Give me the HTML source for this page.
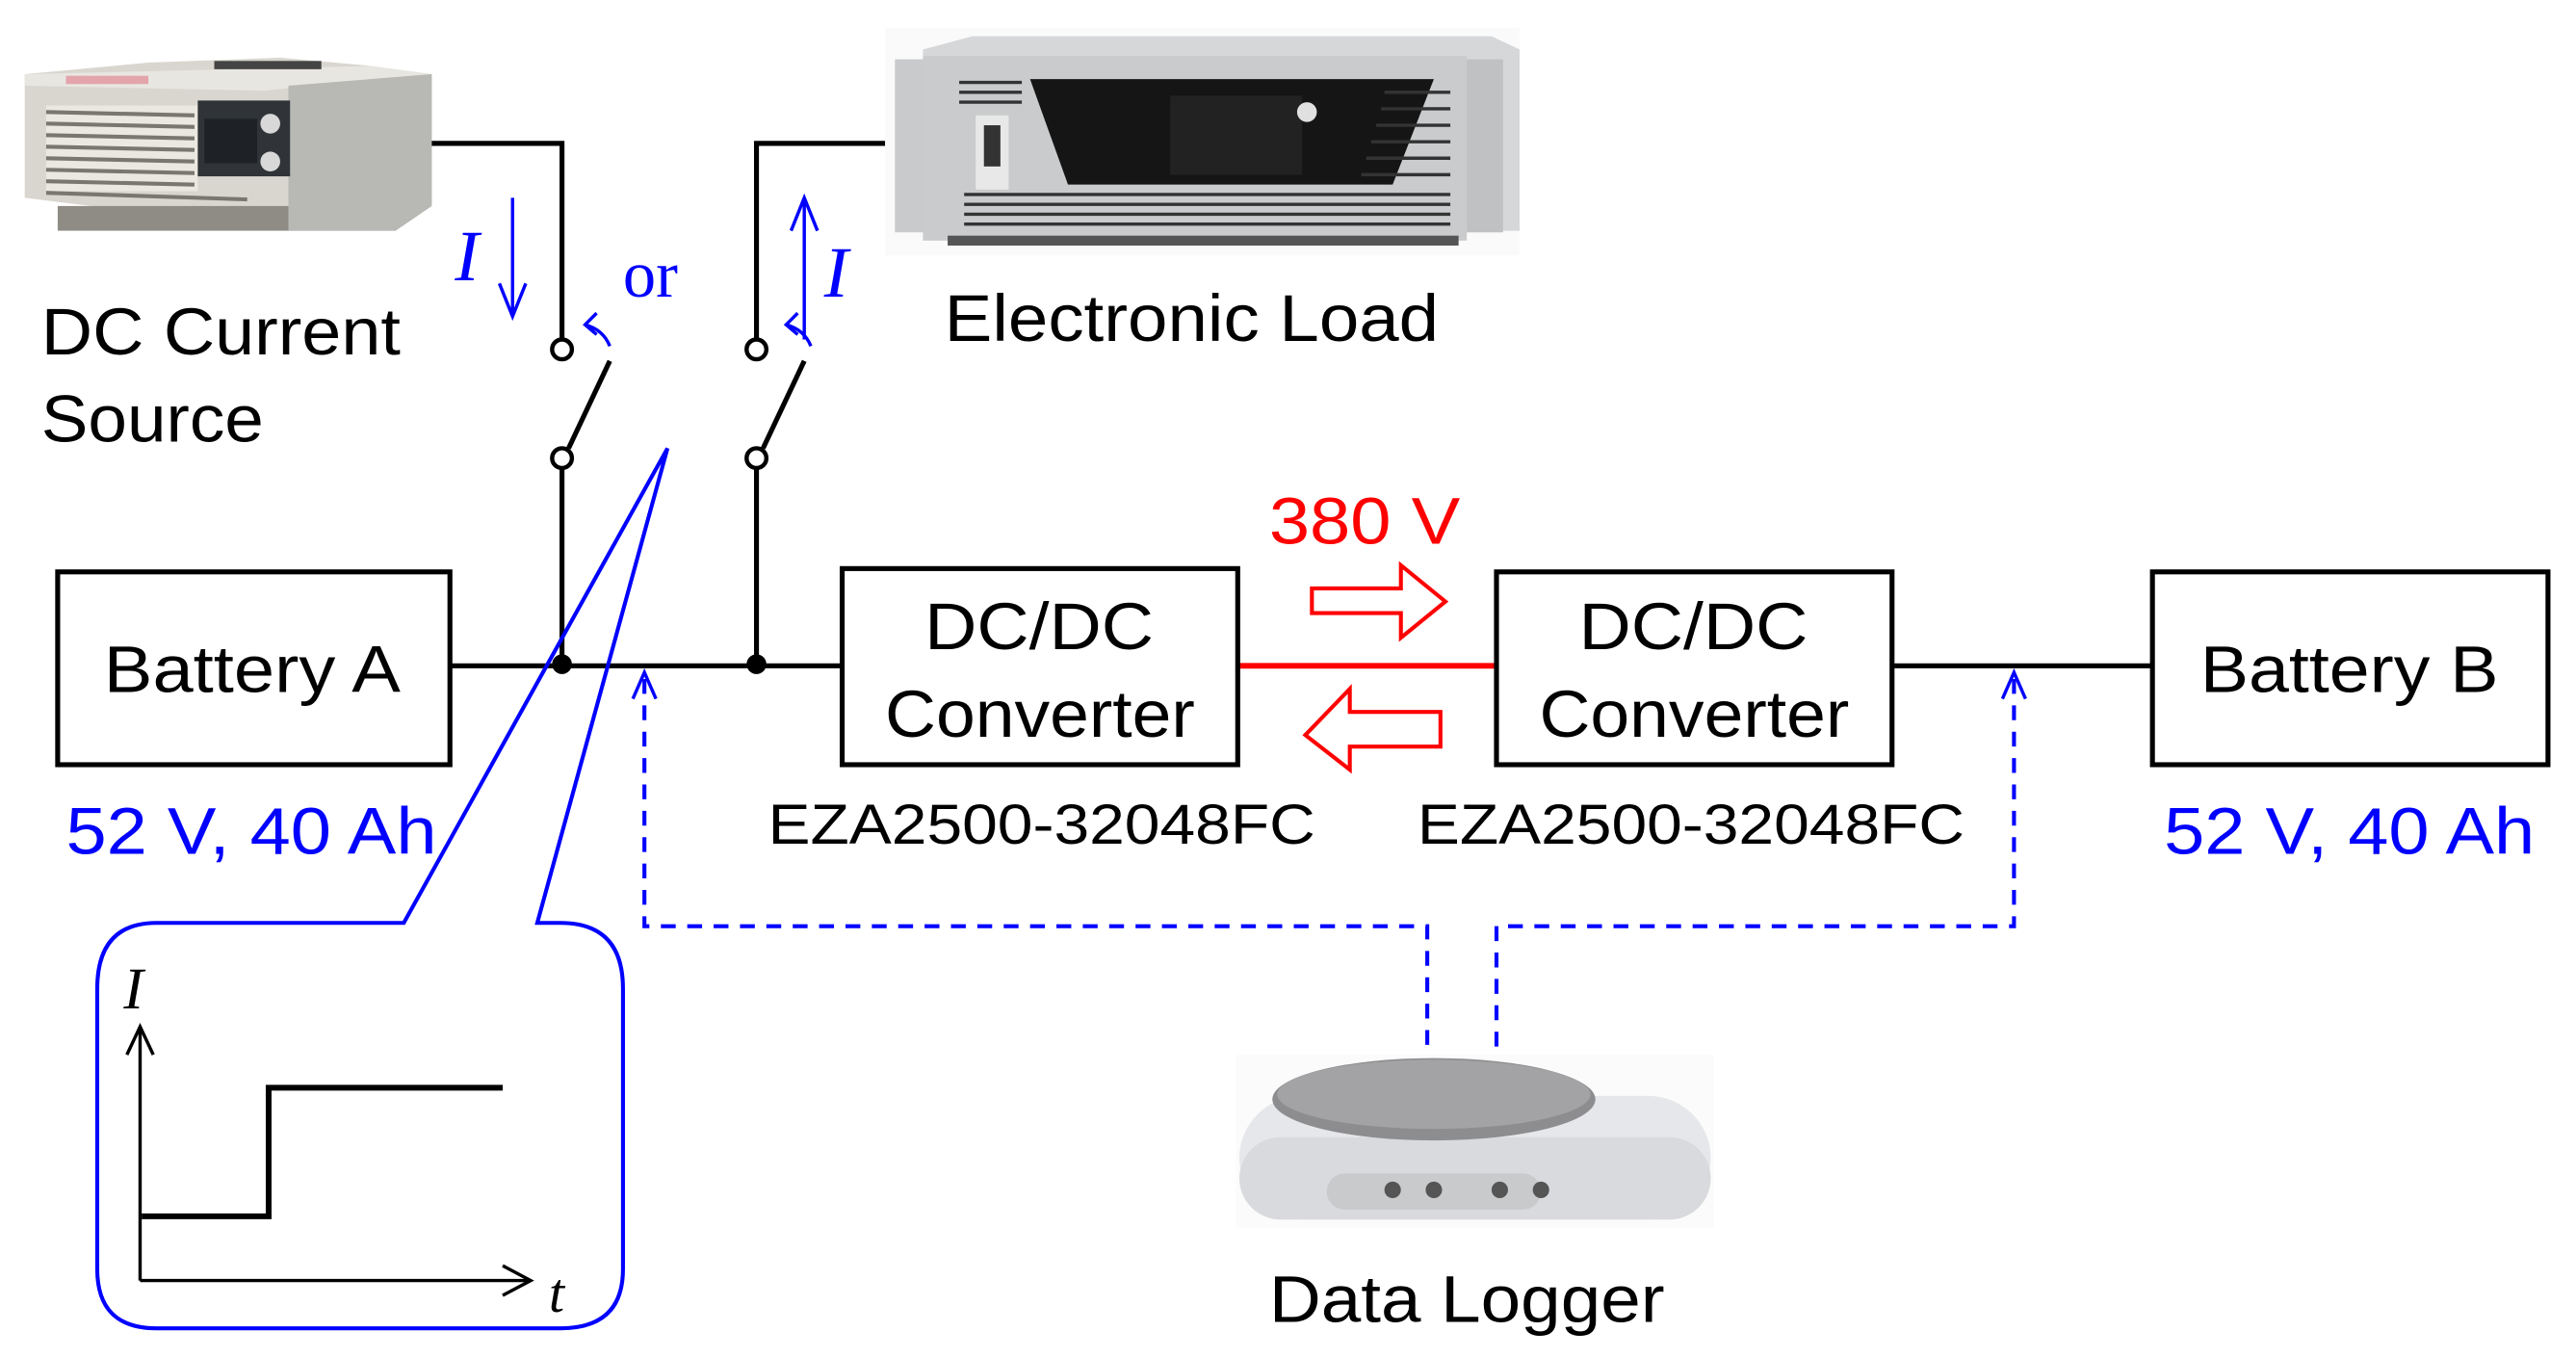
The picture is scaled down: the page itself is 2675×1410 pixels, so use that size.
<!DOCTYPE html>
<html><head><meta charset="utf-8"><style>
html,body{margin:0;padding:0;background:#fff;}
svg{display:block;}
text{font-family:"Liberation Sans",sans-serif;}
text.s{font-family:"Liberation Serif",serif;}
</style></head><body>
<svg width="2675" height="1410" viewBox="0 0 1563 824" preserveAspectRatio="none" xmlns="http://www.w3.org/2000/svg">
<!-- DC source device -->
<g>
<polygon points="15,45 90,38 170,35 225,40 262,45 262,125 240,140 175,140 15,120" fill="#d9d6cf"/>
<polygon points="15,45 225,40 262,45 160,55 15,52" fill="#e8e6e0"/>
<polygon points="175,52 262,45 262,125 240,140 175,140" fill="#b8b8b4"/>
<rect x="28" y="64" width="92" height="52" fill="#ebe8e1"/>
<g stroke="#7a776f" stroke-width="2.4">
<line x1="28" y1="68" x2="118" y2="70"/><line x1="28" y1="75" x2="118" y2="77"/><line x1="28" y1="82" x2="118" y2="84"/><line x1="28" y1="89" x2="118" y2="91"/><line x1="28" y1="96" x2="118" y2="98"/><line x1="28" y1="103" x2="118" y2="105"/><line x1="28" y1="110" x2="118" y2="112"/><line x1="28" y1="117" x2="150" y2="121"/>
</g>
<rect x="120" y="61" width="56" height="46" fill="#303438"/>
<rect x="124" y="72" width="32" height="27" fill="#1e2226"/>
<circle cx="164" cy="75" r="6" fill="#d8d8d8"/><circle cx="164" cy="98" r="6" fill="#d8d8d8"/>
<rect x="40" y="46" width="50" height="5" fill="#e07888" opacity="0.6"/>
<rect x="130" y="37" width="65" height="5" fill="#444"/>
<rect x="35" y="125" width="140" height="15" fill="#8f8c86"/>
</g>
<!-- Electronic load device -->
<g>
<rect x="537" y="17" width="385" height="138" fill="#fafafa"/>
<polygon points="560,30 590,22 905,22 922,30 922,140 560,140" fill="#d5d7d9"/>
<rect x="543" y="36" width="22" height="105" fill="#c8cacc"/>
<rect x="560" y="34" width="330" height="112" fill="#c9cbcd"/>
<rect x="890" y="36" width="22" height="105" fill="#bfc1c3"/>
<polygon points="625,48 870,48 845,112 648,112" fill="#151515"/>
<rect x="710" y="58" width="80" height="48" fill="#222"/>
<circle cx="793" cy="68" r="6" fill="#e0e0e0"/>
<rect x="592" y="70" width="20" height="45" fill="#e8e8e8"/><rect x="597" y="76" width="10" height="25" fill="#333"/>
<g stroke="#333" stroke-width="2">
<line x1="582" y1="50" x2="620" y2="50"/><line x1="582" y1="56" x2="620" y2="56"/><line x1="582" y1="62" x2="620" y2="62"/>
<line x1="585" y1="118" x2="880" y2="118"/><line x1="585" y1="124" x2="880" y2="124"/><line x1="585" y1="130" x2="880" y2="130"/><line x1="585" y1="136" x2="880" y2="136"/>
<line x1="840" y1="56" x2="880" y2="56"/><line x1="838" y1="66" x2="880" y2="66"/><line x1="835" y1="76" x2="880" y2="76"/><line x1="832" y1="86" x2="880" y2="86"/><line x1="829" y1="96" x2="880" y2="96"/><line x1="826" y1="106" x2="880" y2="106"/>
</g>
<rect x="575" y="143" width="310" height="6" fill="#555"/>
</g>
<!-- Data logger -->
<g>
<rect x="750" y="640" width="290" height="105" fill="#fbfbfb"/>
<rect x="752" y="665" width="286" height="75" rx="38" fill="#e6e7ea"/>
<rect x="752" y="690" width="286" height="50" rx="25" fill="#d9dadd"/>
<ellipse cx="870" cy="667" rx="98" ry="25" fill="#8d8d8f"/>
<ellipse cx="870" cy="664" rx="95" ry="21" fill="#a3a3a5"/>
<rect x="805" y="712" width="130" height="22" rx="11" fill="#c9cacc"/>
<circle cx="845" cy="722" r="5" fill="#555"/><circle cx="870" cy="722" r="5" fill="#555"/><circle cx="910" cy="722" r="5" fill="#555"/><circle cx="935" cy="722" r="5" fill="#555"/>
</g>
<!-- black wires -->
<g stroke="#000" stroke-width="3" fill="none">
<polyline points="262,87 341,87 341,206"/>
<polyline points="537,87 459,87 459,206"/>
<line x1="370" y1="219" x2="345" y2="272"/>
<line x1="488" y1="219" x2="463" y2="272"/>
<line x1="341" y1="284" x2="341" y2="403"/>
<line x1="459" y1="284" x2="459" y2="403"/>
<line x1="273" y1="404" x2="511" y2="404"/>
<line x1="1148" y1="404" x2="1306" y2="404"/>
</g>
<g stroke="#000" stroke-width="2.6" fill="#fff">
<circle cx="341" cy="212" r="6"/><circle cx="341" cy="278" r="6"/>
<circle cx="459" cy="212" r="6"/><circle cx="459" cy="278" r="6"/>
</g>
<circle cx="341" cy="403" r="6" fill="#000"/><circle cx="459" cy="403" r="6" fill="#000"/>
<line x1="751" y1="404" x2="908" y2="404" stroke="#f00" stroke-width="3.5"/>
<!-- boxes -->
<g stroke="#000" stroke-width="3" fill="#fff">
<rect x="35" y="347" width="238" height="117"/>
<rect x="511" y="345" width="240" height="119"/>
<rect x="908" y="347" width="240" height="117"/>
<rect x="1306" y="347" width="240" height="117"/>
</g>
<!-- blue arrows -->
<g stroke="#00f" stroke-width="2" fill="none">
<line x1="311" y1="120" x2="311" y2="192"/><polyline points="303,172 311,192 319,172"/>
<line x1="488" y1="206" x2="488" y2="120"/><polyline points="480,140 488,120 496,140"/>
<path d="M370,210 Q366,200 355,197"/><polyline points="362,190 355,197 362,203"/>
<path d="M492,210 Q488,200 477,197"/><polyline points="484,190 477,197 484,203"/>
</g>
<text class="s" x="276" y="170" style="font-family:'Liberation Serif',serif;font-style:italic;font-size:44px" fill="#00f">I</text>
<text class="s" x="500" y="180" style="font-family:'Liberation Serif',serif;font-style:italic;font-size:44px" fill="#00f">I</text>
<text class="s" x="378" y="180" style="font-family:'Liberation Serif',serif;font-size:40px" fill="#00f">or</text>
<!-- callout -->
<path d="M95,560 L245,560 L405,272 L326,560 L340,560 Q378,560 378,600 L378,770 Q378,806 340,806 L95,806 Q59,806 59,770 L59,600 Q59,560 95,560 Z" fill="none" stroke="#00f" stroke-width="2.4"/>
<g stroke="#000" fill="none">
<line x1="85" y1="777" x2="85" y2="623" stroke-width="2"/>
<polyline points="77,640 85,623 93,640" stroke-width="2"/>
<line x1="85" y1="777" x2="322" y2="777" stroke-width="2"/>
<polyline points="305,768 322,777 305,786" stroke-width="2"/>
<polyline points="86,738 163,738 163,660 305,660" stroke-width="3.5"/>
</g>
<text class="s" x="75" y="612" style="font-family:'Liberation Serif',serif;font-style:italic;font-size:36px">I</text>
<text class="s" x="333" y="796" style="font-family:'Liberation Serif',serif;font-style:italic;font-size:34px">t</text>
<!-- dashed -->
<g stroke="#00f" stroke-width="2.4" fill="none" stroke-dasharray="9,7">
<polyline points="391,412 391,562 866,562 866,640"/>
<polyline points="1222,412 1222,562 908,562 908,640"/>
</g>
<g stroke="#00f" stroke-width="2" fill="none">
<polyline points="384,424 391,408 398,424"/>
<polyline points="1215,424 1222,408 1229,424"/>
</g>
<!-- hollow red arrows -->
<path d="M796,357 L850,357 L850,343 L877,365 L850,387 L850,372 L796,372 Z" fill="#fff" stroke="#f00" stroke-width="2.4"/>
<path d="M874,432 L819,432 L819,418 L792,446 L819,467 L819,453 L874,453 Z" fill="#fff" stroke="#f00" stroke-width="2.4"/>
<!-- text -->
<g font-size="40" fill="#000">
<text x="25" y="215" textLength="218" lengthAdjust="spacingAndGlyphs">DC Current</text>
<text x="25" y="268" textLength="135" lengthAdjust="spacingAndGlyphs">Source</text>
<text x="573" y="207" textLength="300" lengthAdjust="spacingAndGlyphs">Electronic  Load</text>
<text x="63" y="420" textLength="180" lengthAdjust="spacingAndGlyphs">Battery  A</text>
<text x="561" y="394" textLength="139" lengthAdjust="spacingAndGlyphs">DC/DC</text>
<text x="537" y="447" textLength="188" lengthAdjust="spacingAndGlyphs">Converter</text>
<text x="958" y="394" textLength="139" lengthAdjust="spacingAndGlyphs">DC/DC</text>
<text x="934" y="447" textLength="188" lengthAdjust="spacingAndGlyphs">Converter</text>
<text x="1335" y="420" textLength="181" lengthAdjust="spacingAndGlyphs">Battery  B</text>
<text x="770" y="802" textLength="240" lengthAdjust="spacingAndGlyphs">Data  Logger</text>
</g>
<g font-size="34" fill="#000">
<text x="466" y="512" textLength="332" lengthAdjust="spacingAndGlyphs">EZA2500-32048FC</text>
<text x="860" y="512" textLength="332" lengthAdjust="spacingAndGlyphs">EZA2500-32048FC</text>
</g>
<g font-size="40" fill="#00f">
<text x="40" y="518" textLength="225" lengthAdjust="spacingAndGlyphs">52 V, 40 Ah</text>
<text x="1313" y="518" textLength="225" lengthAdjust="spacingAndGlyphs">52 V, 40 Ah</text>
</g>
<text x="770" y="330" font-size="40" fill="#f00" textLength="116" lengthAdjust="spacingAndGlyphs">380 V</text>
</svg>
</body></html>
